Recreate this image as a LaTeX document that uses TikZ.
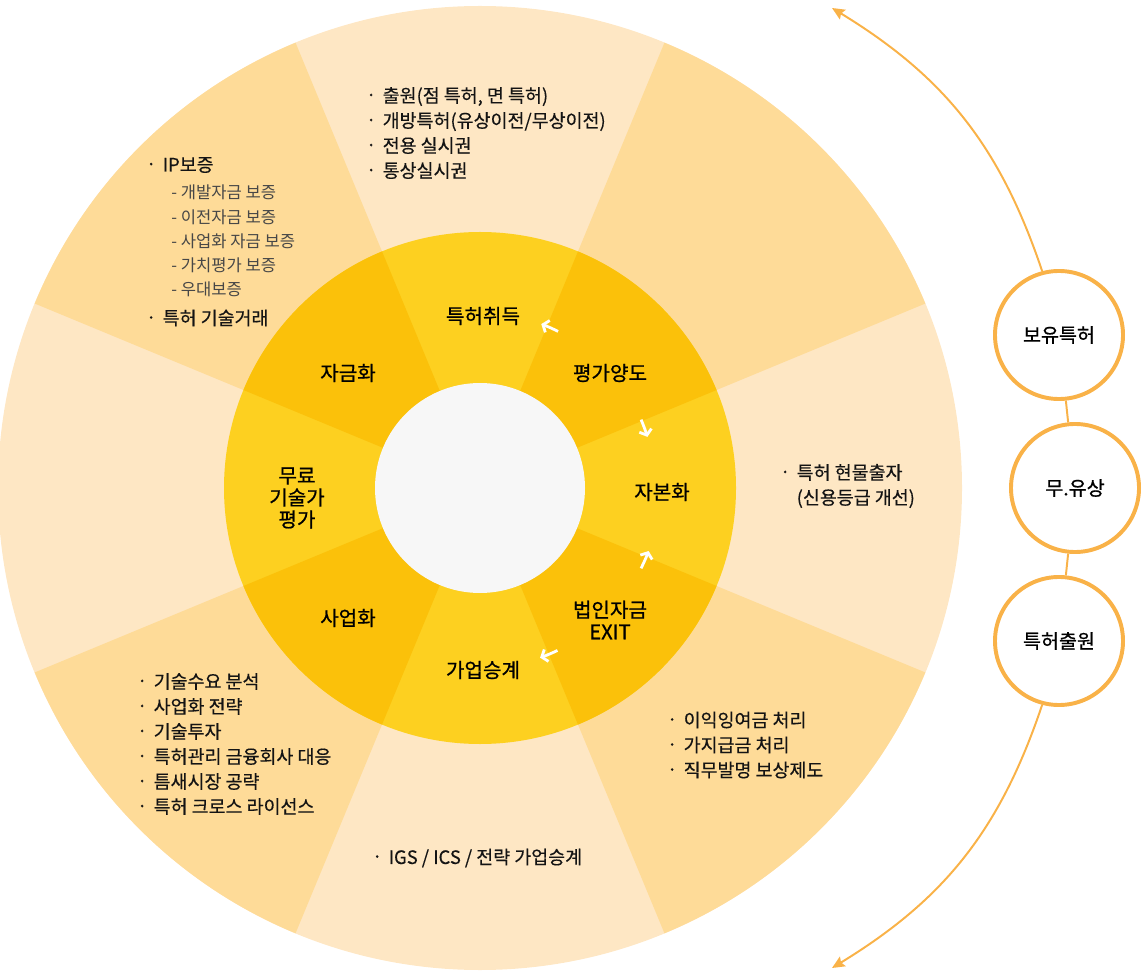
\documentclass[tikz,border=0pt]{standalone}
\usepackage{fontspec}
\setmainfont{Noto Sans CJK KR}[BoldFont={Noto Sans CJK KR},BoldFeatures={FakeBold=0.35}]
\newfontfamily\krmid{Noto Sans CJK KR}[BoldFont={Noto Sans CJK KR},BoldFeatures={FakeBold=0.8}]
\usetikzlibrary{positioning, calc, arrows.meta}

\definecolor{outerlight}{HTML}{FEE7C4}
\definecolor{outerdark}{HTML}{FEDB98}
\definecolor{innerlight}{HTML}{FDD020}
\definecolor{innerdark}{HTML}{FBC10A}
\definecolor{hub}{HTML}{F7F7F7}
\definecolor{ringorange}{HTML}{F9B248}

\newcommand{\bul}{\makebox[0.36cm][l]{\hspace*{0.03cm}\raisebox{0.45ex}{\fontsize{7}{7}\selectfont •}}}

\begin{document}
\begin{tikzpicture}[
            x=0.025cm, y=0.025cm,
            stage/.style={align=center, inner sep=0pt, font=\krmid\bfseries\fontsize{14.3}{15.6}\selectfont},
            note/.style={align=left, anchor=west, inner sep=0pt, text=black!92, font=\bfseries\fontsize{13.1}{17.8}\selectfont},
            subnote/.style={note, text=black!72, font=\fontsize{11.8}{17.2}\selectfont},
            holding/.style={circle, draw=ringorange, line width=2.8pt, fill=white, minimum size=3.2cm, font=\krmid\bfseries\fontsize{13.9}{15.6}\selectfont},
            flow/.style={ringorange, line width=1.4pt, >={Stealth[length=9pt, width=8pt, inset=1.5pt]}},
            turn/.style={white, line width=2pt, -{Straight Barb[length=3.5pt, width=9pt]}}
        ]
            \useasboundingbox (0,0) rectangle (1144,976);

            % --- 바퀴 (바깥/안쪽 고리) ---
            \begin{scope}[shift={(480,488)}]
              \fill[outerlight] (0,0) circle[radius=482];
              \fill[outerdark] (0,0) -- (22.5:482) arc[start angle=22.5, end angle=67.5, radius=482] -- cycle;
              \fill[outerdark] (0,0) -- (112.5:482) arc[start angle=112.5, end angle=157.5, radius=482] -- cycle;
              \fill[outerdark] (0,0) -- (202.5:482) arc[start angle=202.5, end angle=247.5, radius=482] -- cycle;
              \fill[outerdark] (0,0) -- (292.5:482) arc[start angle=292.5, end angle=337.5, radius=482] -- cycle;

              \fill[innerlight] (0,0) circle[radius=256];
              \fill[innerdark] (0,0) -- (22.5:256) arc[start angle=22.5, end angle=67.5, radius=256] -- cycle;
              \fill[innerdark] (0,0) -- (112.5:256) arc[start angle=112.5, end angle=157.5, radius=256] -- cycle;
              \fill[innerdark] (0,0) -- (202.5:256) arc[start angle=202.5, end angle=247.5, radius=256] -- cycle;
              \fill[innerdark] (0,0) -- (292.5:256) arc[start angle=292.5, end angle=337.5, radius=256] -- cycle;

              \fill[hub] (0,0) circle[radius=105];

              % 흐름 화살표
              \draw[turn] (63.5:175) arc[start angle=63.5, end angle=69.5, radius=175];
              \draw[turn] (23:175) arc[start angle=23, end angle=17, radius=175];
              \draw[turn] (-26.5:180) arc[start angle=-26.5, end angle=-20.5, radius=180];
              \draw[turn] (-64.5:180) arc[start angle=-64.5, end angle=-70.5, radius=180];
            \end{scope}

            % --- 단계 이름 ---
            \node[stage] (tok)  at (483,660) {특허취득};
            \node[stage] (eval) at (610,603) {평가양도};
            \node[stage] (capz) at (662,484) {자본화};
            \node[stage] (corp) at (610,356) {법인자금\\EXIT};
            \node[stage] (succ) at (483,306) {가업승계};
            \node[stage] (biz)  at (348,358) {사업화};
            \node[stage] (free) at (297,478) {무료\\기술가\\평가};
            \node[stage] (fund) at (348,603) {자금화};

            % --- 설명 글 ---
            \node[note] (acq) at (368,843) {\bul 출원(점 특허, 면 특허)\\\bul 개방특허(유상이전/무상이전)\\\bul 전용 실시권\\\bul 통상실시권};
            \node[note] (ipgu) at (148,811) {\bul IP보증};
            \node[subnote] (iplist) at (171,735) {- 개발자금 보증\\- 이전자금 보증\\- 사업화 자금 보증\\- 가치평가 보증\\- 우대보증};
            \node[note] (trade) at (148,658) {\bul 특허 기술거래};
            \node[note] (inkind) at (782,490) {\bul 특허 현물출자\\\hspace*{0.36cm}(신용등급 개선)};
            \node[note] (exitnote) at (669,231) {\bul 이익잉여금 처리\\\bul 가지급금 처리\\\bul 직무발명 보상제도};
            \node[note] (biznote) at (139,232) {\bul 기술수요 분석\\\bul 사업화 전략\\\bul 기술투자\\\bul 특허관리 금융회사 대응\\\bul 틈새시장 공략\\\bul 특허 크로스 라이선스};
            \node[note] (succnote) at (374,118) {\bul IGS / ICS / 전략 가업승계};

            % --- 오른쪽 원 ---
            \coordinate (uptip) at (832,968);
            \coordinate (downtip) at (832,8);
            \node[holding] (own) at (1059,641) {보유특허};
            \node[holding] (fee) at (1075,488) {무.유상};
            \node[holding] (app) at (1059,335) {특허출원};

            \draw[flow, ->] (own) to[bend right=20] (uptip);
            \draw[flow] (own) -- (fee);
            \draw[flow] (fee) -- (app);
            \draw[flow, ->] (app) to[bend left=20] (downtip);

        \end{tikzpicture}
\end{document}
